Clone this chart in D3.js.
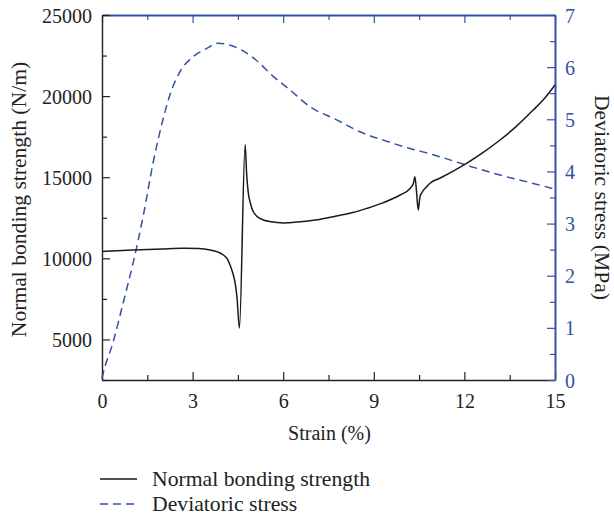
<!DOCTYPE html>
<html>
<head>
<meta charset="utf-8">
<script src="https://cdn.jsdelivr.net/npm/d3@7"></script>
<style>
  body { margin: 0; background: #fff; }
</style>
</head>
<body>
<svg width="614" height="515"></svg>
<script>
// strain (%) vs normal bonding strength (N/m)
const strainBond = [0, 0.5, 1.04, 2, 2.69, 3.2, 3.58, 3.85, 4.02, 4.15, 4.24, 4.33, 4.4, 4.47, 4.55,
  4.74, 4.79, 4.84, 4.92, 5.01, 5.23, 5.6, 6.0, 6.56, 7.2, 7.66, 8.3, 8.77, 9.3, 9.87, 10.2, 10.31,
  10.36, 10.42, 10.47, 10.53, 10.58, 10.75, 10.86, 11.2, 12.07, 12.6, 13.18, 13.7, 14.28, 14.65, 15]
const bondValues = [10420, 10470, 10514, 10580, 10617, 10600, 10514, 10380, 10205, 9950, 9589, 9100, 8560, 7600, 5700,
  17000, 15200, 14100, 13350, 12874, 12463, 12250, 12180, 12259, 12400, 12566, 12820, 13080, 13420, 13904, 14300, 14610,
  15034, 14000, 12979, 13800, 14010, 14415, 14627, 14950, 15858, 16500, 17295, 18100, 19144, 19850, 20685]

// strain (%) vs deviatoric stress (MPa)
const strainStress = [0, 0.04, 0.37, 0.71, 1.04, 1.37, 1.7, 2.03, 2.25, 2.58, 3.02, 3.47, 3.85, 4.24, 4.79,
  5.23, 5.56, 6.23, 6.89, 7.77, 8.54, 9.31, 10.2, 10.97, 12.07, 13.18, 14.28, 15]
const stressValues = [0.03, 0.13, 0.73, 1.5, 2.27, 3.16, 4.19, 5.02, 5.47, 5.91, 6.2, 6.36, 6.46, 6.42, 6.27,
  6.07, 5.88, 5.56, 5.24, 4.99, 4.76, 4.6, 4.44, 4.32, 4.12, 3.93, 3.77, 3.66]

const xTicks = [0, 3, 6, 9, 12, 15]
const leftTicks = [5000, 10000, 15000, 20000, 25000]
const rightTicks = [0, 1, 2, 3, 4, 5, 6, 7]
const legendNames = ["Normal bonding strength", "Deviatoric stress"]

const blue = "#3451a3"
const serif = "'Liberation Serif', 'Times New Roman', 'DejaVu Serif', serif"
const pL = 102, pR = 555, pT = 15, pB = 380

const svg = d3.select("svg").attr("font-family", serif)
const x = d3.scaleLinear().domain([0, 15]).range([pL, pR])
const yL = d3.scaleLinear().domain([2500, 25000]).range([pB, pT])
const yR = d3.scaleLinear().domain([0, 7]).range([pB, pT])

const minor = (a, b, s) => d3.range(a, b + s / 2, s)

// bottom axis
const bx = svg.append("g").attr("transform", `translate(0,${pB})`)
bx.call(d3.axisBottom(x).tickValues(minor(0, 15, 1.5)).tickSize(-5).tickFormat("").tickSizeOuter(0))
bx.selectAll(".tick").filter(d => xTicks.includes(d)).select("line").attr("y2", -8)
bx.selectAll(".tick").filter(d => xTicks.includes(d)).append("text")
  .attr("y", 28).attr("text-anchor", "middle").attr("fill", "#222").attr("font-size", 20).text(d => d)
bx.select(".domain").attr("stroke", "#222").attr("stroke-width", 1.4)
bx.selectAll(".tick line").attr("stroke", "#222").attr("stroke-width", 1.2)

// top axis (blue)
const tx = svg.append("g").attr("transform", `translate(0,${pT})`)
tx.call(d3.axisTop(x).tickValues(minor(0, 15, 1.5)).tickSize(-5).tickFormat("").tickSizeOuter(0))
tx.selectAll(".tick").filter(d => xTicks.includes(d)).select("line").attr("y2", 8)
tx.select(".domain").attr("stroke", blue).attr("stroke-width", 2)
tx.selectAll(".tick line").attr("stroke", blue).attr("stroke-width", 1.2)

// left axis
const ly = svg.append("g").attr("transform", `translate(${pL},0)`)
ly.call(d3.axisLeft(yL).tickValues(minor(2500, 25000, 2500)).tickSize(-5).tickFormat("").tickSizeOuter(0))
ly.selectAll(".tick").filter(d => leftTicks.includes(d)).select("line").attr("x2", 8)
ly.selectAll(".tick").filter(d => leftTicks.includes(d)).append("text")
  .attr("x", -10).attr("dy", "0.35em").attr("text-anchor", "end").attr("fill", "#222").attr("font-size", 20).text(d => d)
ly.select(".domain").attr("stroke", "#222").attr("stroke-width", 1.4)
ly.selectAll(".tick line").attr("stroke", "#222").attr("stroke-width", 1.2)

// right axis (blue)
const ry = svg.append("g").attr("transform", `translate(${pR},0)`)
ry.call(d3.axisRight(yR).tickValues(minor(0, 7, 0.5)).tickSize(-5).tickFormat("").tickSizeOuter(0))
ry.selectAll(".tick").filter(d => rightTicks.includes(d)).select("line").attr("x2", -8)
ry.selectAll(".tick").filter(d => rightTicks.includes(d)).append("text")
  .attr("x", 10).attr("dy", "0.35em").attr("text-anchor", "start").attr("fill", blue).attr("font-size", 20).text(d => d)
ry.select(".domain").attr("stroke", blue).attr("stroke-width", 2)
ry.selectAll(".tick line").attr("stroke", blue).attr("stroke-width", 1.2)

// axes set their own sans font, put serif back
svg.selectAll("g").attr("font-family", serif)

// curves
const bondLine = d3.line().x(d => x(d[0])).y(d => yL(d[1])).curve(d3.curveMonotoneX)
const stressLine = d3.line().x(d => x(d[0])).y(d => yR(d[1])).curve(d3.curveMonotoneX)

svg.append("path").datum(d3.zip(strainStress, stressValues))
  .attr("d", stressLine).attr("fill", "none").attr("stroke", blue)
  .attr("stroke-width", 1.5).attr("stroke-dasharray", "8,5")
svg.append("path").datum(d3.zip(strainBond, bondValues))
  .attr("d", bondLine).attr("fill", "none").attr("stroke", "#1a1a1a").attr("stroke-width", 1.5)

// axis titles
svg.append("text").attr("x", (pL + pR) / 2 + 1).attr("y", 440)
  .attr("text-anchor", "middle").attr("font-size", 20).attr("fill", "#222").text("Strain (%)")
svg.append("text").attr("transform", `translate(26,${(pT + pB) / 2 + 2}) rotate(-90)`)
  .attr("text-anchor", "middle").attr("font-size", 21.6).attr("fill", "#222").text("Normal bonding strength (N/m)")
svg.append("text").attr("transform", `translate(595,${(pT + pB) / 2}) rotate(90)`)
  .attr("text-anchor", "middle").attr("font-size", 21.6).attr("fill", "#222").text("Deviatoric stress (MPa)")

// legend
const lg = svg.append("g").selectAll("g").data(legendNames).join("g")
  .attr("transform", (d, i) => `translate(100,${479 + i * 25})`)
lg.append("line").attr("x1", 0).attr("x2", 37)
  .attr("stroke", (d, i) => i ? blue : "#1a1a1a").attr("stroke-width", 1.5)
  .attr("stroke-dasharray", (d, i) => i ? "8,5" : null)
lg.append("text").attr("x", 52).attr("dy", "0.32em").attr("font-size", 21.7).attr("fill", "#222").text(d => d)
</script>
</body>
</html>
